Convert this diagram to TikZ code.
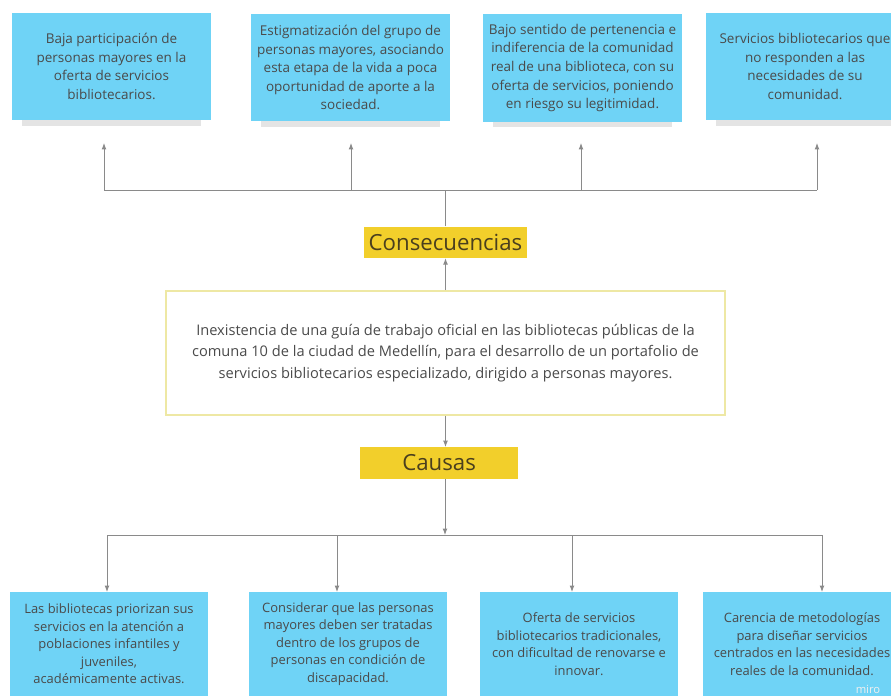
\documentclass[tikz,border=0pt]{standalone}
\usepackage{fontspec}
\setmainfont{Open Sans}
\usetikzlibrary{arrows.meta, positioning, shadows}
\definecolor{notecyan}{HTML}{6FD3F6}
\definecolor{labelgold}{HTML}{F2CF2B}
\definecolor{framegold}{HTML}{EEE8A4}
\definecolor{inkgray}{HTML}{4A4A4A}
\definecolor{tagbrown}{HTML}{4A3F1E}
\definecolor{wiregray}{HTML}{8A8A8A}

\begin{document}
\begin{tikzpicture}[
    x=0.025cm, y=-0.025cm,
    note/.style={fill=notecyan, minimum width=4.95cm, align=center, inner sep=0pt, text=inkgray},
    effect/.style={note, minimum height=2.68cm, font=\fontsize{9.6}{13.2}\selectfont,
        drop shadow={shadow xshift=0pt, shadow yshift=-8.5pt, shadow scale=0.9, fill=gray!70, opacity=0.3}},
    cause/.style={note, minimum height=2.6cm, font=\fontsize{9.2}{12.4}\selectfont},
    tag/.style={fill=labelgold, text=tagbrown, font=\fontsize{15.8}{18}\selectfont, minimum width=3.93cm, minimum height=0.78cm},
    wire/.style={wiregray, line width=0.6pt},
    arr/.style={wire, -{Latex[length=1.6mm, width=1.2mm]}},
]
\clip (0,0) rectangle (891,696);
\useasboundingbox (0,0) rectangle (891,696);

% problem and the two labels
\node[draw=framegold, line width=1.2pt, minimum width=13.98cm, minimum height=3.1cm, align=center,
      text=inkgray, font=\fontsize{10.4}{15.3}\selectfont] (problem) at (445.5,353)
    {Inexistencia de una guía de trabajo oficial en las bibliotecas públicas de la\\
     comuna 10 de la ciudad de Medellín, para el desarrollo de un portafolio de\\
     servicios bibliotecarios especializado, dirigido a personas mayores.};
\node[tag, above=0.8cm of problem] (cons) {Consecuencias};
\node[tag, below=0.78cm of problem, xshift=-0.16cm] (cau) {Causas};

% consequences
\node[effect] (e1) at (111.5,66.5) {Baja participación de\\personas mayores en la\\oferta de servicios\\bibliotecarios.};
\node[effect] (e2) at (350.5,67.5) {Estigmatización del grupo de\\personas mayores, asociando\\esta etapa de la vida a poca\\oportunidad de aporte a la\\sociedad.};
\node[effect] (e3) at (582.5,68) {Bajo sentido de pertenencia e\\indiferencia de la comunidad\\real de una biblioteca, con su\\oferta de servicios, poniendo\\en riesgo su legitimidad.};
\node[effect] (e4) at (805,66.5) {Servicios bibliotecarios que\\no responden a las\\necesidades de su\\comunidad.};

% causes
\node[cause] (c1) at (109,644) {Las bibliotecas priorizan sus\\servicios en la atención a\\poblaciones infantiles y\\juveniles,\\académicamente activas.};
\node[cause] (c2) at (348,644) {Considerar que las personas\\mayores deben ser tratadas\\dentro de los grupos de\\personas en condición de\\discapacidad.};
\node[cause] (c3) at (579,644) {Oferta de servicios\\bibliotecarios tradicionales,\\con dificultad de renovarse e\\innovar.};
\node[cause] (c4) at (802,644) {Carencia de metodologías\\para diseñar servicios\\centrados en las necesidades\\reales de la comunidad.};

\node[text=gray!12, font=\fontsize{8}{8}\selectfont] (mark) at (868,689) {miro};

% arrow ends
\coordinate (e1tip) at (104,143);
\coordinate (e2tip) at (351,143);
\coordinate (e3tip) at (581,143);
\coordinate (e4tip) at (817,143);
\coordinate (c1tip) at (107,592);
\coordinate (c2tip) at (337,592);
\coordinate (c3tip) at (572,592);
\coordinate (c4tip) at (822,592);
\coordinate (hubtop) at (445,190);
\coordinate (hubbot) at (445,535);

\draw[arr] (problem.north) -- (problem.north |- cons.south);
\draw[arr] (problem.south) -- (problem.south |- cau.north);
\draw[wire] (hubtop |- cons.north) -- (hubtop);
\draw[arr] (hubtop |- cau.south) -- (hubbot);
\draw[wire] (hubtop -| e1tip) -- (hubtop -| e4tip);
\draw[wire] (hubbot -| c1tip) -- (hubbot -| c4tip);
\foreach \t in {e1tip, e2tip, e3tip, e4tip} {
    \draw[arr] (hubtop -| \t) -- (\t);
}
\foreach \t in {c1tip, c2tip, c3tip, c4tip} {
    \draw[arr] (hubbot -| \t) -- (\t);
}

\end{tikzpicture}
\end{document}
